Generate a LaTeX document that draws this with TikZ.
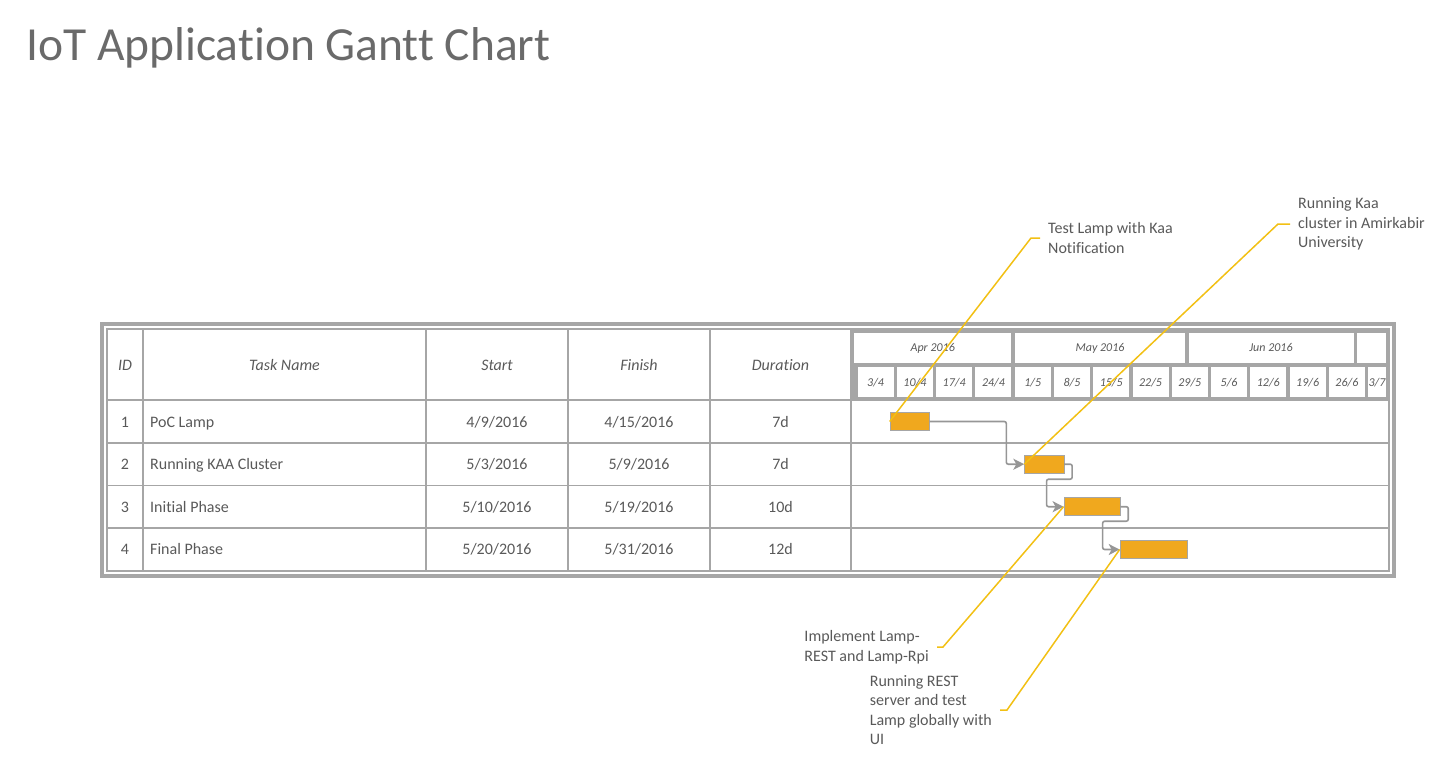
\documentclass[tikz,border=0pt]{standalone}
\usepackage{fontspec}
\setmainfont{Carlito}[Ligatures=NoCommon]
\usetikzlibrary{arrows.meta,positioning}
\definecolor{framegray}{RGB}{166,166,166}
\definecolor{textgray}{RGB}{89,89,89}
\definecolor{barorange}{RGB}{240,168,30}
\definecolor{noteyellow}{RGB}{242,192,20}
\definecolor{linkgray}{RGB}{150,150,150}
% day on the time scale -> x (day 0 = 3/4/2016)
\newcommand{\dayx}[1]{856+5.61*(#1)}

\begin{document}
\begin{tikzpicture}[
    x=1pt, y=-1pt,
    font=\fontsize{16}{19.5}\selectfont,
    text=textgray,
    >={Stealth[length=11pt,width=11pt,inset=3pt]},
    cell/.style={
		anchor=base,
		inner sep=0pt
	},
    head/.style={
		cell,
		font=\fontsize{16}{19.5}\selectfont\itshape
	},
    scalelab/.style={
		anchor=base,
		inner sep=0pt,
		font=\fontsize{12}{14}\selectfont\itshape
	},
    grid/.style={
		draw=framegray,
		line width=3.3pt
	},
    thin/.style={
		draw=framegray,
		line width=1.5pt
	},
    bar/.style={
		rectangle,
		fill=barorange,
		draw=framegray,
		line width=0.6pt,
		minimum height=18pt,
		inner sep=0pt,
		anchor=west
	},
    link/.style={
		draw=linkgray,
		line width=1.6pt,
		rounded corners=2pt,
		->
	},
    callout/.style={
		draw=noteyellow,
		line width=1.5pt
	},
    note/.style={
		align=left,
		inner sep=0pt,
		inner xsep=8pt
	}
  ]
  \useasboundingbox (0,0) rectangle (1439,757);

  \node [anchor=base west, inner sep=0pt, text=textgray!90, font=\fontsize{47.5}{52}\selectfont] (title) at (26,61) {IoT Application Gantt Chart};

  % table frame and grid
  \draw [framegray, line width=4pt] (102,323.5) rectangle (1393.5,576);
  \draw [thin] (107,329) rectangle (1389,571);
  \foreach \y in {400,443,485.5,528}
    \draw [thin] (107,\y) -- (1389,\y);
  \foreach \x in {143,426,568,710,851}
    \draw [thin] (\x,329) -- (\x,571);

  % time scale: months and weeks
  \draw [grid] (852.5,331) rectangle (1013,365);
  \draw [grid] (1013,331) rectangle (1187,365);
  \draw [grid] (1187,331) rectangle (1355.5,365);
  \draw [grid] (1355.5,331) rectangle (1387.5,365);
  \draw [grid] (852.5,365) rectangle (856,399);
  \foreach \wk in {0,...,12}
    \draw [grid] ({\dayx{7*\wk}},365) rectangle ({\dayx{7*\wk+7}},399);
  \draw [grid] ({\dayx{91}},365) rectangle (1387.5,399);

  \node [scalelab] (apr) at (932.7,351) {Apr 2016};
  \node [scalelab] (may) at (1100,351) {May 2016};
  \node [scalelab] (jun) at (1271,351) {Jun 2016};
  \foreach \wk/\dd/\mm in {0/3/4,1/10/4,2/17/4,3/24/4,4/1/5,5/8/5,6/15/5,7/22/5,8/29/5,9/5/6,10/12/6,11/19/6,12/26/6}
    \node [scalelab] (week\wk) at ({\dayx{7*\wk+3.5}},386) {\dd/\mm};
  \node [scalelab] (week13) at (1377,386) {3/7};

  % header
  \node [head] (hid) at (125,370) {ID};
  \node [head] (hname) at (284.5,370) {Task Name};
  \node [head] (hstart) at (497,370) {Start};
  \node [head] (hfinish) at (639,370) {Finish};
  \node [head] (hdur) at (780.5,370) {Duration};

  % rows
  \foreach \i/\y/\task/\sdate/\fdate/\dur in {
      1/427/PoC Lamp/{4/9/2016}/{4/15/2016}/7d,
      2/469.5/Running KAA Cluster/{5/3/2016}/{5/9/2016}/7d,
      3/512/Initial Phase/{5/10/2016}/{5/19/2016}/10d,
      4/554.5/Final Phase/{5/20/2016}/{5/31/2016}/12d}
  {
    \node [cell] (id\i) at (125,\y) {\i};
    \node [cell, anchor=base west] (name\i) at (150,\y) {\task};
    \node [cell] (start\i) at (497,\y) {\sdate};
    \node [cell] (finish\i) at (639,\y) {\fdate};
    \node [cell] (dur\i) at (780.5,\y) {\dur};
  }

  % bars
  \node [bar, minimum width=7*5.61pt] (task1) at ({\dayx{6}},421.5) {};
  \node [bar, minimum width=7*5.61pt] (task2) at ({\dayx{30}},464.2) {};
  \node [bar, minimum width=10*5.61pt] (task3) at ({\dayx{37}},506.7) {};
  \node [bar, minimum width=12*5.61pt] (task4) at ({\dayx{47}},549.5) {};

  \draw [link] (task1.east) -| ([xshift=-18pt]task2.west) -- (task2.west);
  \draw [link] (task2.east) -- ++(8,0) -- ++(0,15) -| ([xshift=-17pt]task3.west) -- (task3.west);
  \draw [link] (task3.east) -- ++(8,0) -- ++(0,14.5) -| ([xshift=-17pt]task4.west) -- (task4.west);

  % notes
  \node [note, anchor=west] (note1) at (1040,238) {Test Lamp with Kaa\\Notification};
  \node [note, anchor=west] (note2) at (1290,224) {Running Kaa\\cluster in Amirkabir\\University};
  \node [note, anchor=east] (note3) at (937,647) {Implement Lamp-\\REST and Lamp-Rpi};
  \node [note, anchor=east] (note4) at (1000,710) {Running REST\\server and test\\Lamp globally with\\UI};

  \draw [callout] (task1.west) -- ([xshift=-9pt]note1.west) -- (note1.west);
  \draw [callout] (task2.west) -- ([xshift=-12pt]note2.west) -- (note2.west);
  \draw [callout] (task3.west) -- ([xshift=6pt]note3.east) -- (note3.east);
  \draw [callout] (task4.west) -- ([xshift=7pt]note4.east) -- (note4.east);
\end{tikzpicture}
\end{document}
